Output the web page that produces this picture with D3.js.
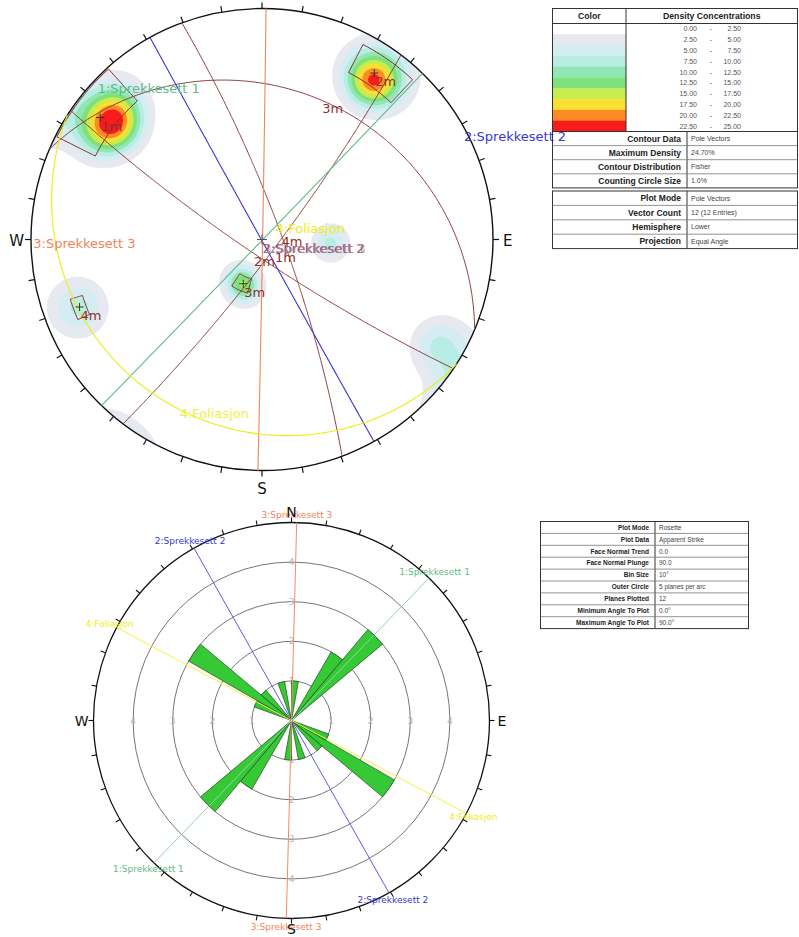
<!DOCTYPE html>
<html lang="en">
<head>
<meta charset="utf-8" />
<title>stereonet</title>
<script src="https://d3js.org/d3.v7.min.js"></script>
<style>
  body{margin:0;background:#fff;}
  text{font-family:"DejaVu Sans",Verdana,sans-serif;}
  .tbl text{font-family:"Liberation Sans",Arial,sans-serif;}
</style>
</head>
<body>
<div id="myDiv"></div>
<script>
// ---------- data ----------
// pole vectors behind the density contours (trend, plunge) - 12 entries
var poleTrend  = [303, 313, 308, 308, 33, 37, 35, 199, 208, 249.7, 121, 93];
var polePlunge = [10.5, 10, 14.5, 8.5, 9, 8.5, 11.5, 65, 67.5, 9.8, 6, 57];

// density legend
var densityLevels = [0, 2.5, 5, 7.5, 10, 12.5, 15, 17.5, 20, 22.5, 25];
var densityColors = ["#ffffff","#e7e9f1","#d4edf2","#b7ede3","#91e7b3","#7ee17c","#c6ec4e","#f9df33","#fd8b25","#f71b1b"];

// user planes, given by their poles (trend, plunge)
var setNames = ["1:Sprekkesett 1","2:Sprekkesett 2","3:Sprekkesett 3","4:Foliasjon"];
var setPoleTrend  = [314, 61, 271, 32.6];
var setPolePlunge = [0.3, 0.3, 0.3, 78.5];
var setColors = ["#5fbb8c","#3737d6","#f0845a","#eded12"];

// mean set planes (poles) and their boxes
var meanNames = ["1m","2m","3m","4m"];
var meanPoleTrend  = [307, 34, 203, 249.7];
var meanPolePlunge = [7.5, 8, 66.5, 9.8];
var boxTrend  = [[296.6,318],[27.4,43.3],[195,213],[246.5,252.7]];
var boxPlunge = [[0.4,12.2],[2.9,11.7],[63,70],[8,11.7]];

// rose diagram: counts per 10 degree bin from 0 to 180 (mirrored)
var roseBinSize = 10;
var roseCounts = [1,0,0,2,3,0,0,0,0,0,0,1,3,1,0,0,1,0];
var roseRings = [1,2,3,4];
var roseOuter = 5;
var roseSetStrike = [44, 150.5, 1.5, 118];

// tables
var contourLabels = ["Contour Data","Maximum Density","Contour Distribution","Counting Circle Size"];
var contourValues = ["Pole Vectors","24.70%","Fisher","1.0%"];
var plotLabels = ["Plot Mode","Vector Count","Hemisphere","Projection"];
var plotValues = ["Pole Vectors","12 (12 Entries)","Lower","Equal Angle"];
var roseLabels = ["Plot Mode","Plot Data","Face Normal Trend","Face Normal Plunge","Bin Size","Outer Circle","Planes Plotted","Minimum Angle To Plot","Maximum Angle To Plot"];
var roseValues = ["Rosette","Apparent Strike","0.0","90.0","10°","5 planes per arc","12","0.0°","90.0°"];

// ---------- stereonet ----------
var svg = d3.select("#myDiv").append("svg").attr("width",799).attr("height",937);
var defs = svg.append("defs");

var cx = 262, cy = 239.5, R = 231;
// equal angle, lower hemisphere: lon = -trend, lat = plunge
var proj = d3.geoStereographic().rotate([180,-90]).scale(R).translate([cx,cy]).clipAngle(90).precision(0.1);
var geo = d3.geoPath(proj);
function pt(t,p){ return proj([-t,p]); }
function vec(lon,lat){
  var a = lon*Math.PI/180, b = lat*Math.PI/180;
  return [Math.cos(b)*Math.cos(a), Math.cos(b)*Math.sin(a), Math.sin(b)];
}

defs.append("clipPath").attr("id","net").append("circle")
    .attr("cx",cx).attr("cy",cy).attr("r",R);

// density grid - fisher kernel, axial data
var kappa = 100, onePole = kappa/poleTrend.length;
var poles = poleTrend.map(function(t,i){ return vec(-t, polePlunge[i]); });
var step = 2, gx0 = cx-R-6, gy0 = cy-R-6, n = Math.ceil((2*R+12)/step);
var grid = new Array(n*n);
for (var j=0;j<n;j++){
  for (var i=0;i<n;i++){
    var ll = proj.invert([gx0+(i+0.5)*step, gy0+(j+0.5)*step]);
    var v = vec(ll[0], ll[1]), s = 0;
    for (var k=0;k<poles.length;k++){
      var p = poles[k], d = v[0]*p[0]+v[1]*p[1]+v[2]*p[2];
      s += Math.exp(kappa*(d-1)) + Math.exp(kappa*(-d-1));
    }
    grid[j*n+i] = s*onePole;
  }
}
var bands = d3.contours().size([n,n]).thresholds(densityLevels.slice(1,-1))(grid);
var gridPath = d3.geoPath(d3.geoTransform({point:function(x,y){
  this.stream.point(gx0+x*step, gy0+y*step);
}}));
svg.append("g").attr("clip-path","url(#net)")
   .selectAll("path").data(bands).enter().append("path")
   .attr("d", gridPath)
   .attr("fill", function(d,i){ return densityColors[i+1]; });

// primitive circle and ticks
svg.append("circle").attr("cx",cx).attr("cy",cy).attr("r",R)
   .attr("fill","none").attr("stroke","#111").attr("stroke-width",1.4);
svg.append("g").selectAll("line").data(d3.range(0,360,10)).enter().append("line")
   .attr("x1",function(a){ return cx+R*Math.sin(a*Math.PI/180); })
   .attr("y1",function(a){ return cy-R*Math.cos(a*Math.PI/180); })
   .attr("x2",function(a){ return cx+(R+6)*Math.sin(a*Math.PI/180); })
   .attr("y2",function(a){ return cy-(R+6)*Math.cos(a*Math.PI/180); })
   .attr("stroke","#111").attr("stroke-width",1.2);

svg.append("text").attr("x",cx-R-7).attr("y",cy+6).attr("text-anchor","end")
   .attr("font-size",15).attr("fill","#111").text("W");
svg.append("text").attr("x",cx+R+10).attr("y",cy+6)
   .attr("font-size",15).attr("fill","#111").text("E");
svg.append("text").attr("x",cx).attr("y",cy+R+23).attr("text-anchor","middle")
   .attr("font-size",15).attr("fill","#111").text("S");

// great circles
function plane(t,p){
  return {type:"LineString", coordinates: d3.geoCircle().center([-t,p]).radius(90).precision(0.5)().coordinates[0]};
}
function box(tr,pl){
  var c = [], m = 12;
  d3.range(m+1).forEach(function(q){ c.push([-(tr[0]+(tr[1]-tr[0])*q/m), pl[0]]); });
  d3.range(m+1).forEach(function(q){ c.push([-tr[1], pl[0]+(pl[1]-pl[0])*q/m]); });
  d3.range(m+1).forEach(function(q){ c.push([-(tr[1]-(tr[1]-tr[0])*q/m), pl[1]]); });
  d3.range(m+1).forEach(function(q){ c.push([-tr[0], pl[1]-(pl[1]-pl[0])*q/m]); });
  return {type:"LineString", coordinates:c};
}

var brown = "#8e2f2f";
meanNames.forEach(function(m,i){
  svg.append("path").attr("d", geo(plane(meanPoleTrend[i], meanPolePlunge[i])))
     .attr("fill","none").attr("stroke","#8b3a3a").attr("stroke-width",1);
  svg.append("path").attr("d", geo(box(boxTrend[i], boxPlunge[i])))
     .attr("fill","none").attr("stroke",brown).attr("stroke-width",1);
});
setNames.forEach(function(s,i){
  svg.append("path").attr("d", geo(plane(setPoleTrend[i], setPolePlunge[i])))
     .attr("fill","none").attr("stroke",setColors[i]).attr("stroke-width",1.1);
});

// centre mark
svg.append("path").attr("d","M"+(cx-5)+","+cy+"H"+(cx+5)+"M"+cx+","+(cy-5)+"V"+(cy+5))
   .attr("stroke","#555").attr("stroke-width",1);

// mean poles and labels
meanNames.forEach(function(m,i){
  var q = pt(meanPoleTrend[i], meanPolePlunge[i]);
  svg.append("path").attr("d","M"+(q[0]-4)+","+q[1]+"H"+(q[0]+4)+"M"+q[0]+","+(q[1]-4)+"V"+(q[1]+4))
     .attr("stroke","#333").attr("stroke-width",1);
  svg.append("text").attr("x",q[0]+1).attr("y",q[1]+13).attr("font-size",13)
     .attr("fill",brown).text(m);
  var dp = pt(meanPoleTrend[i]+180, 90-meanPolePlunge[i]);
  svg.append("text").attr("x",dp[0]+1).attr("y",dp[1]+13).attr("font-size",13)
     .attr("fill",brown).text(m);
});

// set labels: at the pole and on the plane
setNames.forEach(function(s,i){
  var q = pt(setPoleTrend[i], setPolePlunge[i]);
  svg.append("text").attr("x",q[0]+1).attr("y",q[1]+13).attr("font-size",13)
     .attr("fill",setColors[i]).text(s);
  // label on the plane, a little along strike from the dip point
  var dp = pt(setPoleTrend[i]+180-(i==3?4:0), 90-setPolePlunge[i]);
  svg.append("text").attr("x",dp[0]+(i==3?8:1)).attr("y",dp[1]+13).attr("font-size",13)
     .attr("fill",setColors[i]).attr("opacity",0.8).text(s);
});

// ---------- rose diagram ----------
var rcx = 291.5, rcy = 720.5, rR = 198;
var rs = d3.scaleLinear().domain([0,roseOuter]).range([0,rR]);
var rose = svg.append("g").attr("transform","translate("+rcx+","+rcy+")");

rose.selectAll(".ring").data(roseRings).enter().append("circle")
    .attr("r",function(d){ return rs(d); })
    .attr("fill","none").attr("stroke","#666").attr("stroke-width",0.9);
rose.append("circle").attr("r",rs(roseOuter))
    .attr("fill","none").attr("stroke","#111").attr("stroke-width",1.3);
rose.selectAll(".tick").data(d3.range(0,360,10)).enter().append("line")
    .attr("x1",function(a){ return rR*Math.sin(a*Math.PI/180); })
    .attr("y1",function(a){ return -rR*Math.cos(a*Math.PI/180); })
    .attr("x2",function(a){ return (rR+5)*Math.sin(a*Math.PI/180); })
    .attr("y2",function(a){ return -(rR+5)*Math.cos(a*Math.PI/180); })
    .attr("stroke","#111").attr("stroke-width",1.1);

// ring values on the four axes
[[0,-1],[0,1],[-1,0],[1,0]].forEach(function(dir){
  rose.selectAll(null).data(roseRings).enter().append("text")
      .attr("x",function(d){ return dir[0]*rs(d); })
      .attr("y",function(d){ return dir[1]*rs(d); })
      .attr("dy","0.35em").attr("text-anchor","middle")
      .attr("font-size",9).attr("fill","#b4b4b4").text(function(d){ return d; });
});

var petals = [];
roseCounts.forEach(function(c,i){
  if (c > 0) [0,180].forEach(function(off){
    petals.push({a0:i*roseBinSize+off, a1:(i+1)*roseBinSize+off, c:c});
  });
});
var arc = d3.arc().innerRadius(0);
rose.selectAll(".petal").data(petals).enter().append("path")
    .attr("d",function(d){ return arc({outerRadius:rs(d.c), startAngle:d.a0*Math.PI/180, endAngle:d.a1*Math.PI/180}); })
    .attr("fill","#36c936").attr("stroke","#1d4d1d").attr("stroke-width",0.7);

var roseLineColors = ["#93d3ac","#5c5ce6","#f08c68","#f3f33a"];
roseSetStrike.forEach(function(a,i){
  var r = a*Math.PI/180;
  rose.append("line")
      .attr("x1",rR*Math.sin(r)).attr("y1",-rR*Math.cos(r))
      .attr("x2",-rR*Math.sin(r)).attr("y2",rR*Math.cos(r))
      .attr("stroke",roseLineColors[i]).attr("stroke-width",1);
  [0,180].forEach(function(off){
    var b = (a+off)*Math.PI/180;
    rose.append("text").attr("x",(rR+8)*Math.sin(b)).attr("y",-(rR+8)*Math.cos(b))
        .attr("dy","0.35em").attr("text-anchor","middle")
        .attr("font-size",9).attr("fill",setColors[i]).text(setNames[i]);
  });
});

rose.append("text").attr("x",0).attr("y",-rR-6).attr("text-anchor","middle")
    .attr("font-size",14).attr("fill","#111").text("N");
rose.append("text").attr("x",0).attr("y",rR+15).attr("text-anchor","middle")
    .attr("font-size",14).attr("fill","#111").text("S");
rose.append("text").attr("x",-rR-5).attr("y",5).attr("text-anchor","end")
    .attr("font-size",14).attr("fill","#111").text("W");
rose.append("text").attr("x",rR+8).attr("y",5)
    .attr("font-size",14).attr("fill","#111").text("E");

// ---------- tables ----------
var tbl = svg.append("g").attr("class","tbl");

function infoRows(x0,x1,xd,y0,rowH,labels,values,ls,vs){
  tbl.append("rect").attr("x",x0).attr("y",y0).attr("width",x1-x0).attr("height",rowH*labels.length)
     .attr("fill","none").attr("stroke","#333").attr("stroke-width",1);
  tbl.append("line").attr("x1",xd).attr("x2",xd).attr("y1",y0).attr("y2",y0+rowH*labels.length)
     .attr("stroke","#333");
  labels.forEach(function(l,i){
    if (i>0) tbl.append("line").attr("x1",x0).attr("x2",x1).attr("y1",y0+i*rowH).attr("y2",y0+i*rowH)
                .attr("stroke","#777").attr("stroke-width",0.8);
    tbl.append("text").attr("x",xd-6).attr("y",y0+(i+0.5)*rowH).attr("dy","0.35em")
       .attr("text-anchor","end").attr("font-size",ls).attr("font-weight","bold").attr("fill","#222").text(l);
    tbl.append("text").attr("x",xd+4).attr("y",y0+(i+0.5)*rowH).attr("dy","0.35em")
       .attr("font-size",vs).attr("fill","#444").text(values[i]);
  });
}

// density legend
var lx0 = 552.5, lx1 = 797.5, lxc = 626, ly0 = 8.5, lyh = 23.5, crow = 10.8;
var lyc = lyh + crow*(densityColors.length);
tbl.selectAll(".swatch").data(densityColors).enter().append("rect")
   .attr("x",lx0).attr("y",function(d,i){ return lyh+i*crow; })
   .attr("width",lxc-lx0).attr("height",crow+0.3).attr("fill",function(d){ return d; });
tbl.append("rect").attr("x",lx0).attr("y",ly0).attr("width",lx1-lx0).attr("height",lyc-ly0)
   .attr("fill","none").attr("stroke","#333");
tbl.append("line").attr("x1",lx0).attr("x2",lx1).attr("y1",lyh).attr("y2",lyh).attr("stroke","#333");
tbl.append("line").attr("x1",lxc).attr("x2",lxc).attr("y1",ly0).attr("y2",lyc).attr("stroke","#333");
tbl.append("text").attr("x",(lx0+lxc)/2).attr("y",(ly0+lyh)/2).attr("dy","0.35em")
   .attr("text-anchor","middle").attr("font-size",8.7).attr("font-weight","bold").attr("fill","#222").text("Color");
tbl.append("text").attr("x",(lxc+lx1)/2).attr("y",(ly0+lyh)/2).attr("dy","0.35em")
   .attr("text-anchor","middle").attr("font-size",8.7).attr("font-weight","bold").attr("fill","#222").text("Density Concentrations");
densityColors.forEach(function(c,i){
  var y = lyh+(i+0.5)*crow;
  tbl.append("text").attr("x",697).attr("y",y).attr("dy","0.35em").attr("text-anchor","end")
     .attr("font-size",7).attr("fill","#555").text(densityLevels[i].toFixed(2));
  tbl.append("text").attr("x",711).attr("y",y).attr("dy","0.35em").attr("text-anchor","middle")
     .attr("font-size",7).attr("fill","#555").text("-");
  tbl.append("text").attr("x",741).attr("y",y).attr("dy","0.35em").attr("text-anchor","end")
     .attr("font-size",7).attr("fill","#555").text(densityLevels[i+1].toFixed(2));
});
infoRows(lx0,lx1,687,lyc,14.1,contourLabels,contourValues,8.5,7);
infoRows(lx0,lx1,687,191,14.4,plotLabels,plotValues,8.5,7);

// rose settings
infoRows(540.5,748.5,655,521.5,11.9,roseLabels,roseValues,6.5,6.5);
</script>
</body>
</html>
